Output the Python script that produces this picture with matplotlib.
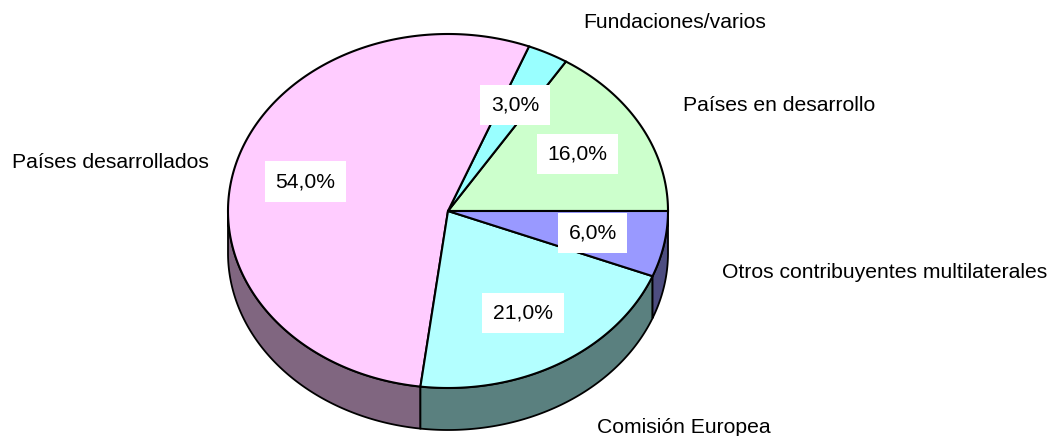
import numpy as np
import matplotlib.pyplot as plt
from matplotlib.patches import Polygon

# data (counter-clockwise from 3 o'clock)
labels = ['Países en desarrollo', 'Fundaciones/varios', 'Países desarrollados',
          'Comisión Europea', 'Otros contribuyentes multilaterales']
values = [16.0, 3.0, 54.0, 21.0, 6.0]
top_colors = ['#CCFFCC', '#99FFFF', '#FFCCFF', '#B3FFFF', '#9999FF']
side_colors = ['#668066', '#4D8080', '#806680', '#5A807F', '#4D4D80']

# layout in pixels
cx, cy = 448, 211
rx, ry = 220, 177
depth = 42
label_pos = [(683, 105), (583, 22), (12, 162), (597, 427), (722, 272)]

plt.rcParams['font.family'] = ['Liberation Sans', 'DejaVu Sans']

fig = plt.figure(figsize=(10.48, 4.36), dpi=100)
ax = fig.add_axes([0, 0, 1, 1])
ax.set_xlim(0, 1048)
ax.set_ylim(436, 0)
ax.axis('off')


def arc(a0, a1, dy=0):
    t = np.radians(np.linspace(a0, a1, max(int(abs(a1 - a0)) * 2, 2)))
    return np.column_stack([cx + rx * np.cos(t), cy - ry * np.sin(t) + dy])


total = sum(values)
angles = np.cumsum([0] + values) / total * 360

# side faces (only the front half is visible)
for i in range(len(values)):
    a0, a1 = max(angles[i], 180), min(angles[i + 1], 360)
    if a1 <= a0:
        continue
    top = arc(a0, a1)
    bot = arc(a1, a0, depth)
    ax.add_patch(Polygon(np.vstack([top, bot]), closed=True, fc=side_colors[i],
                         ec='black', lw=1.3, zorder=1))

# top wedges
for i in range(len(values)):
    pts = np.vstack([[cx, cy], arc(angles[i], angles[i + 1])])
    ax.add_patch(Polygon(pts, closed=True, fc=top_colors[i], ec='black',
                         lw=1.5, zorder=2))

# value labels
for i, v in enumerate(values):
    mid = np.radians((angles[i] + angles[i + 1]) / 2)
    x = cx + 0.67 * rx * np.cos(mid)
    y = cy - 0.67 * ry * np.sin(mid)
    ax.text(x, y, f'{v:.1f}%'.replace('.', ','), ha='center', va='center',
            fontsize=15.2, zorder=3,
            bbox=dict(boxstyle='square,pad=0.5', fc='white', ec='none'))

# category labels
for lab, (x, y) in zip(labels, label_pos):
    ax.text(x, y, lab, ha='left', va='center', fontsize=15.2)

fig.savefig('out.png', dpi=100)
